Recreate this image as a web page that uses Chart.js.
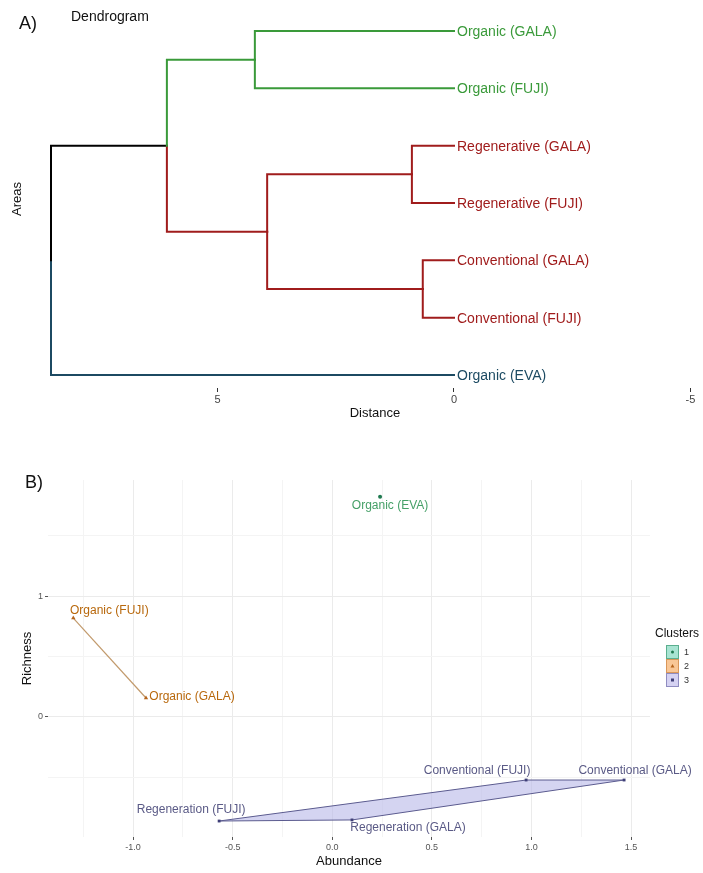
<!DOCTYPE html>
<html>
<head>
<meta charset="utf-8">
<script src="https://cdn.jsdelivr.net/npm/chart.js@4.4.0/dist/chart.umd.min.js"></script>
<style>
  body { margin: 0; background: #fff; font-family: 'Liberation Sans', Arial, sans-serif; }
  #page { position: relative; width: 703px; height: 873px; overflow: hidden; }
  canvas { position: absolute; left: 0; }
  #dendro { top: 0; }
  #scatter { top: 440px; }
  .tag { position: absolute; line-height: 1; color: #111; white-space: nowrap; }
</style>
</head>
<body>
<div id="page">
  <canvas id="dendro" width="703" height="424"></canvas>
  <canvas id="scatter" width="703" height="433"></canvas>
  <div class="tag" style="left:19px;top:14px;font-size:18px">A)</div>
  <div class="tag" style="left:71px;top:9px;font-size:14px">Dendrogram</div>
  <div class="tag" style="left:25px;top:473px;font-size:18px">B)</div>
</div>
<script>
// ---- Panel A: dendrogram data ----
const leafLabels = ['Organic (GALA)', 'Organic (FUJI)', 'Regenerative (GALA)', 'Regenerative (FUJI)',
    'Conventional (GALA)', 'Conventional (FUJI)', 'Organic (EVA)'];
const leafCluster = [1, 1, 2, 2, 2, 2, 3];
// hclust-style merges: negative = leaf (1-based), positive = earlier merge
const mergeLeft = [-5, -3, 2, -1, 4, 5];
const mergeRight = [-6, -4, 1, -2, 3, -7];
const mergeHeight = [0.66, 0.89, 3.95, 4.21, 6.07, 8.52];
const distanceTicks = [5, 0, -5];

// ---- Panel B: cluster plot data ----
const sampleLabels = ['Organic (EVA)', 'Organic (FUJI)', 'Organic (GALA)', 'Regeneration (FUJI)',
    'Regeneration (GALA)', 'Conventional (FUJI)', 'Conventional (GALA)'];
const abundance = [0.24, -1.30, -0.935, -0.568, 0.099, 0.973, 1.465];
const richness = [1.82, 0.818, 0.157, -0.86, -0.851, -0.521, -0.521];
const sampleCluster = [1, 2, 2, 3, 3, 3, 3];
const hullCluster2 = [1, 2];
const hullCluster3 = [3, 5, 6, 4];
const abundanceTicks = [-1.25, -1, -0.75, -0.5, -0.25, 0, 0.25, 0.5, 0.75, 1, 1.25, 1.5];
const abundanceLabelled = [-1, -0.5, 0, 0.5, 1, 1.5];
const richnessTicks = [-0.5, 0, 0.5, 1, 1.5];
const richnessLabelled = [0, 1];
const clusterNames = ['1', '2', '3'];

// label placement (pixels, relative to the point)
const labelDx = [10, 36, 46, -28, 56, -49, 11];
const labelDy = [9, -7, -1, -11, 8, -9, -9];

const dendroColors = { 1: '#3A9A3A', 2: '#A01C1C', 3: '#1C4A62' };
const clusterPoint = { 1: '#1F7A50', 2: '#B5651D', 3: '#3F3F78' };
const clusterText = { 1: '#46A068', 2: '#B8680C', 3: '#5A5A86' };
const clusterKeyFill = { 1: '#A8E4D2', 2: '#F9C796', 3: '#D5D2F2' };
const clusterKeyBorder = { 1: '#5BAF8F', 2: '#D9975A', 3: '#8F8CC0' };
const clusterShape = { 1: 'circle', 2: 'triangle', 3: 'rect' };
const fontFamily = "'Liberation Sans', Arial, sans-serif";

// ---- build dendrogram branches ----
const nodes = [];
const branchSets = [];

function nodeInfo(ref) {
    if (ref < 0) {
        const i = -ref - 1;
        return { h: 0, y: i, cluster: leafCluster[i] };
    }
    return nodes[ref - 1];
}

mergeHeight.forEach((h, m) => {
    const a = nodeInfo(mergeLeft[m]);
    const b = nodeInfo(mergeRight[m]);
    const node = { h: h, y: (a.y + b.y) / 2, cluster: a.cluster === b.cluster ? a.cluster : null };
    [a, b].forEach(child => {
        branchSets.push({
            data: [{ x: child.h, y: child.y }, { x: h, y: child.y }, { x: h, y: node.y }],
            showLine: true,
            borderColor: child.cluster ? dendroColors[child.cluster] : '#000000',
            borderWidth: 2,
            borderCapStyle: 'square',
            borderJoinStyle: 'miter',
            pointRadius: 0,
            tension: 0,
            clip: false
        });
    });
    nodes.push(node);
});

const leafLabelPlugin = {
    id: 'leafLabels',
    afterDatasetsDraw(chart) {
        const ctx = chart.ctx;
        const xs = chart.scales.x;
        const ys = chart.scales.y;
        ctx.save();
        ctx.font = '14px ' + fontFamily;
        ctx.textAlign = 'left';
        ctx.textBaseline = 'middle';
        leafLabels.forEach((label, i) => {
            ctx.fillStyle = dendroColors[leafCluster[i]];
            ctx.fillText(label, xs.getPixelForValue(0) + 3, ys.getPixelForValue(i) + 1);
        });
        ctx.restore();
    }
};

new Chart(document.getElementById('dendro'), {
    type: 'scatter',
    data: { datasets: branchSets },
    plugins: [leafLabelPlugin],
    options: {
        responsive: false,
        animation: false,
        layout: { padding: { top: 10, right: 4, left: 0, bottom: 0 } },
        plugins: { legend: { display: false }, tooltip: { enabled: false } },
        scales: {
            x: {
                type: 'linear',
                reverse: true,
                min: -5.18,
                max: 8.52,
                afterBuildTicks: scale => { scale.ticks = distanceTicks.map(v => ({ value: v })); },
                afterFit: scale => { scale.height = 36; },
                grid: { drawOnChartArea: false, drawTicks: true, tickLength: 4, tickColor: '#333' },
                border: { display: false },
                ticks: { font: { size: 11, family: fontFamily }, color: '#444', padding: 1, maxRotation: 0, autoSkip: false },
                title: { display: true, text: 'Distance', font: { size: 13, family: fontFamily }, color: '#111', padding: { top: 0, bottom: 3 } }
            },
            y: {
                type: 'linear',
                reverse: true,
                min: -0.366,
                max: 6.227,
                afterFit: scale => { scale.width = 51; },
                grid: { display: false },
                border: { display: false },
                ticks: { display: false },
                title: { display: true, text: 'Areas', font: { size: 13, family: fontFamily }, color: '#111', padding: { top: 10, bottom: 0 } }
            }
        }
    }
});

// ---- Panel B ----
function pointsOf(indices) {
    return indices.map(i => ({ x: abundance[i], y: richness[i] }));
}

const clusterSets = [1, 2, 3].map(c => {
    const idx = sampleCluster.map((k, i) => (k === c ? i : -1)).filter(i => i >= 0);
    return {
        label: clusterNames[c - 1],
        data: pointsOf(idx),
        pointStyle: clusterShape[c],
        pointRadius: c === 2 ? 2.5 : 2,
        pointBackgroundColor: clusterPoint[c],
        pointBorderColor: clusterPoint[c],
        pointBorderWidth: 0,
        showLine: false,
        order: 0
    };
});

const hullSets = [
    {
        data: pointsOf(hullCluster3.concat(hullCluster3[0])),
        showLine: true,
        fill: 'shape',
        backgroundColor: 'rgba(186, 186, 232, 0.62)',
        borderColor: '#5B5B8F',
        borderWidth: 1,
        pointRadius: 0,
        tension: 0,
        order: 2
    },
    {
        data: pointsOf(hullCluster2),
        showLine: true,
        fill: false,
        borderColor: '#C29A6C',
        borderWidth: 1.2,
        pointRadius: 0,
        tension: 0,
        order: 1
    }
];

const pointLabelPlugin = {
    id: 'pointLabels',
    afterDatasetsDraw(chart) {
        const ctx = chart.ctx;
        const xs = chart.scales.x;
        const ys = chart.scales.y;
        ctx.save();
        ctx.font = '12px ' + fontFamily;
        ctx.textAlign = 'center';
        ctx.textBaseline = 'middle';
        sampleLabels.forEach((label, i) => {
            ctx.fillStyle = clusterText[sampleCluster[i]];
            ctx.fillText(label, xs.getPixelForValue(abundance[i]) + labelDx[i], ys.getPixelForValue(richness[i]) + labelDy[i]);
        });
        ctx.restore();
    }
};

const clusterLegendPlugin = {
    id: 'clusterLegend',
    afterDraw(chart) {
        const ctx = chart.ctx;
        const left = 655;
        ctx.save();
        ctx.font = '12px ' + fontFamily;
        ctx.fillStyle = '#111';
        ctx.textAlign = 'left';
        ctx.textBaseline = 'middle';
        ctx.fillText('Clusters', left, 194);
        clusterNames.forEach((name, k) => {
            const c = k + 1;
            const cy = 212 + k * 14;
            ctx.fillStyle = clusterKeyFill[c];
            ctx.strokeStyle = clusterKeyBorder[c];
            ctx.lineWidth = 1;
            ctx.fillRect(666.5, cy - 6.5, 12, 13);
            ctx.strokeRect(666.5, cy - 6.5, 12, 13);
            ctx.fillStyle = clusterPoint[c];
            if (c === 1) {
                ctx.beginPath();
                ctx.arc(672.5, cy, 1.5, 0, Math.PI * 2);
                ctx.fill();
            } else if (c === 2) {
                ctx.beginPath();
                ctx.moveTo(672.5, cy - 2);
                ctx.lineTo(674.5, cy + 1.5);
                ctx.lineTo(670.5, cy + 1.5);
                ctx.closePath();
                ctx.fill();
            } else {
                ctx.fillRect(671, cy - 1.5, 3, 3);
            }
            ctx.fillStyle = '#333';
            ctx.font = '9px ' + fontFamily;
            ctx.fillText(name, 684, cy + 0.5);
            ctx.font = '12px ' + fontFamily;
        });
        ctx.restore();
    }
};

new Chart(document.getElementById('scatter'), {
    type: 'scatter',
    data: { datasets: clusterSets.concat(hullSets) },
    plugins: [pointLabelPlugin, clusterLegendPlugin],
    options: {
        responsive: false,
        animation: false,
        layout: { padding: { top: 40, right: 53, left: 0, bottom: 0 } },
        plugins: { legend: { display: false }, tooltip: { enabled: false } },
        scales: {
            x: {
                type: 'linear',
                min: -1.427,
                max: 1.595,
                afterBuildTicks: scale => { scale.ticks = abundanceTicks.map(v => ({ value: v })); },
                afterFit: scale => { scale.height = 36; },
                grid: {
                    color: ctx => (abundanceLabelled.includes(ctx.tick && ctx.tick.value) ? '#EBEBEB' : '#F4F4F4'),
                    lineWidth: 1,
                    tickLength: 3,
                    tickColor: ctx => (abundanceLabelled.includes(ctx.tick && ctx.tick.value) ? '#555' : 'rgba(0,0,0,0)')
                },
                border: { display: false },
                ticks: {
                    font: { size: 9, family: fontFamily },
                    color: '#555',
                    padding: 2,
                    maxRotation: 0,
                    autoSkip: false,
                    callback: v => (abundanceLabelled.includes(v) ? v.toFixed(1) : '')
                },
                title: { display: true, text: 'Abundance', font: { size: 13, family: fontFamily }, color: '#111', padding: { top: 0, bottom: 4 } }
            },
            y: {
                type: 'linear',
                min: -0.992,
                max: 1.959,
                afterBuildTicks: scale => { scale.ticks = richnessTicks.map(v => ({ value: v })); },
                afterFit: scale => { scale.width = 48; },
                grid: {
                    color: ctx => (richnessLabelled.includes(ctx.tick && ctx.tick.value) ? '#EBEBEB' : '#F4F4F4'),
                    lineWidth: 1,
                    tickLength: 3,
                    tickColor: ctx => (richnessLabelled.includes(ctx.tick && ctx.tick.value) ? '#555' : 'rgba(0,0,0,0)')
                },
                border: { display: false },
                ticks: {
                    font: { size: 9, family: fontFamily },
                    color: '#555',
                    padding: 2,
                    autoSkip: false,
                    callback: v => (richnessLabelled.includes(v) ? String(v) : '')
                },
                title: { display: true, text: 'Richness', font: { size: 13, family: fontFamily }, color: '#111', padding: { top: 20, bottom: 0 } }
            }
        }
    }
});
</script>
</body>
</html>
